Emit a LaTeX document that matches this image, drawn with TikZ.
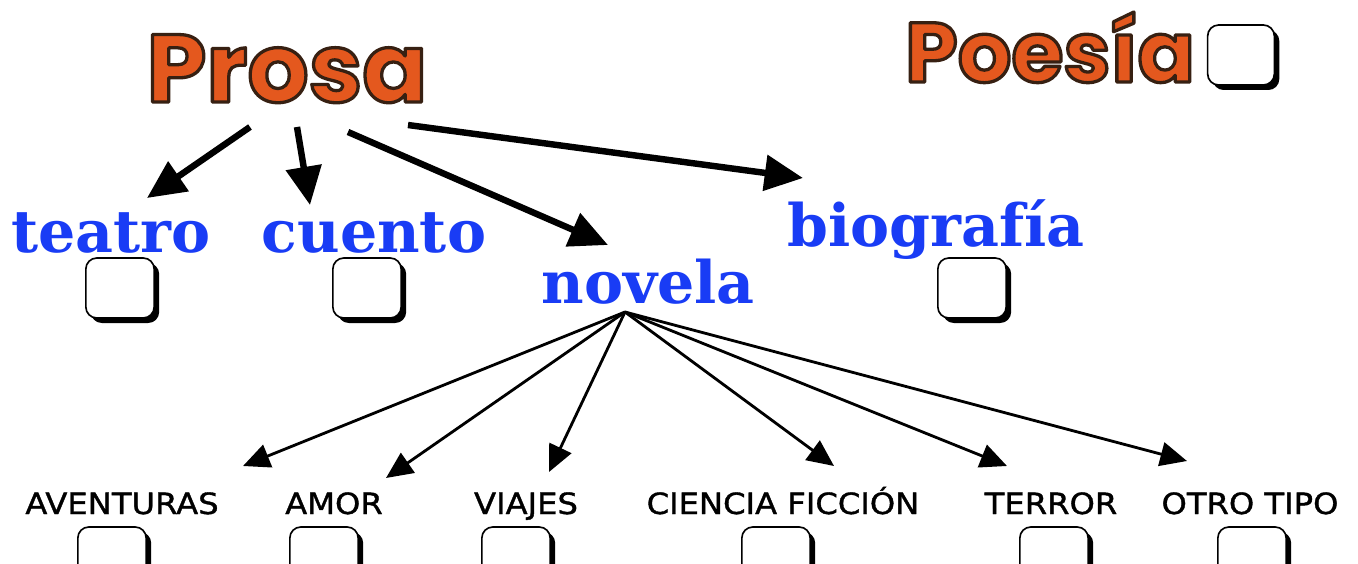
\documentclass[tikz,border=0pt]{standalone}
\usepackage{fontspec}
\setmainfont{DejaVu Serif}
\newfontfamily\titlefam{Poppins}
\newfontfamily\bluefam{DejaVu Serif}
\newfontfamily\labfam{DejaVu Sans}[FakeStretch=1.1,FakeBold=1.2]
\usetikzlibrary{arrows.meta,shadows,calc}
\definecolor{titleorange}{RGB}{228,88,30}
\definecolor{titleedge}{RGB}{55,32,18}
\definecolor{wordblue}{RGB}{25,60,245}
\newcommand\orangeword[4]{% name, position, size, text
  \node[anchor=base, inner sep=0, text=titleorange, font=\titlefam\bfseries\fontsize{#3}{#3}\selectfont] (#1) at (#2)
    {\special{pdf:literal direct q 2 Tr 2.8 w 1 j 0.216 0.125 0.071 RG 0.894 0.345 0.118 rg}#4\special{pdf:literal direct Q}};
}
\begin{document}
\begin{tikzpicture}[x=0.03cm,y=-0.03cm,
  chk/.style={draw=black, line width=1.4pt, fill=white, rounded corners=0.33cm,
    minimum width=2.05cm, minimum height=1.8cm, inner sep=0,
    drop shadow={shadow xshift=0.15cm, shadow yshift=-0.15cm, opacity=1, fill=black}},
  blueword/.style={anchor=base, inner sep=0, text=wordblue, font=\bluefam\bfseries\fontsize{50}{50}\selectfont},
  lab/.style={anchor=base, inner sep=0, text=black, font=\labfam\fontsize{25}{25}\selectfont},
  bigarrow/.style={line width=5.5pt, -{Triangle[length=1.15cm,width=1.05cm]}},
  fanarrow/.style={line width=2.4pt, -{Triangle[length=0.8cm,width=0.72cm]}}]
\fill[white] (0,0) rectangle (1358,564);
\useasboundingbox (0,0) rectangle (1358,564);

% titles
\coordinate (prosapos) at (287,102);
\coordinate (poesiapos) at (1050,82);
\orangeword{prosa}{prosapos}{82}{Prosa}
\orangeword{poesia}{poesiapos}{72}{Poesía}
\node[chk, minimum width=2.0cm] (bpoesia) at (1241,55) {};

% blue words
\node[blueword] (teatro) at (111,252) {teatro};
\node[blueword] (cuento) at (374,252) {cuento};
\node[blueword] (novela) at (648,303) {novela};
\node[blueword] (biografia) at (936,247) {biografía};
\node[chk] (bteatro) at (120,288) {};
\node[chk] (bcuento) at (367,288) {};
\node[chk] (bbiografia) at (972,288) {};

% arrows from Prosa
\coordinate (pa) at (250,127);
\coordinate (pb) at (297,127);
\coordinate (pc) at (348,132);
\coordinate (pd) at (408,125);
\coordinate (ta) at (147,198);
\coordinate (tb) at (310,205);
\coordinate (tc) at (608,245);
\coordinate (td) at (803,178);
\draw[bigarrow] (pa) -- (ta);
\draw[bigarrow] (pb) -- (tb);
\draw[bigarrow] (pc) -- (tc);
\draw[bigarrow] (pd) -- (td);

% bottom labels
\node[lab] (aventuras) at (122,514) {AVENTURAS};
\node[lab] (amor) at (334,514) {AMOR};
\node[lab] (viajes) at (526,514) {VIAJES};
\node[lab] (ciencia) at (783,514) {CIENCIA FICCIÓN};
\node[lab] (terror) at (1051,514) {TERROR};
\node[lab] (otro) at (1250,514) {OTRO TIPO};
\node[chk] (baventuras) at (112,557) {};
\node[chk] (bamor) at (324,557) {};
\node[chk] (bviajes) at (516,557) {};
\node[chk] (bciencia) at (776,557) {};
\node[chk] (bterror) at (1054,557) {};
\node[chk] (botro) at (1252,557) {};

% fan from novela
\coordinate (nv) at (625,312);
\coordinate (fa) at (243,466);
\coordinate (fb) at (386,478);
\coordinate (fc) at (549,472);
\coordinate (fd) at (834,466);
\coordinate (fe) at (1007,466);
\coordinate (ff) at (1187,461);
\draw[fanarrow] (nv) -- (fa);
\draw[fanarrow] (nv) -- (fb);
\draw[fanarrow] (nv) -- (fc);
\draw[fanarrow] (nv) -- (fd);
\draw[fanarrow] (nv) -- (fe);
\draw[fanarrow] (nv) -- (ff);
\end{tikzpicture}
\end{document}
